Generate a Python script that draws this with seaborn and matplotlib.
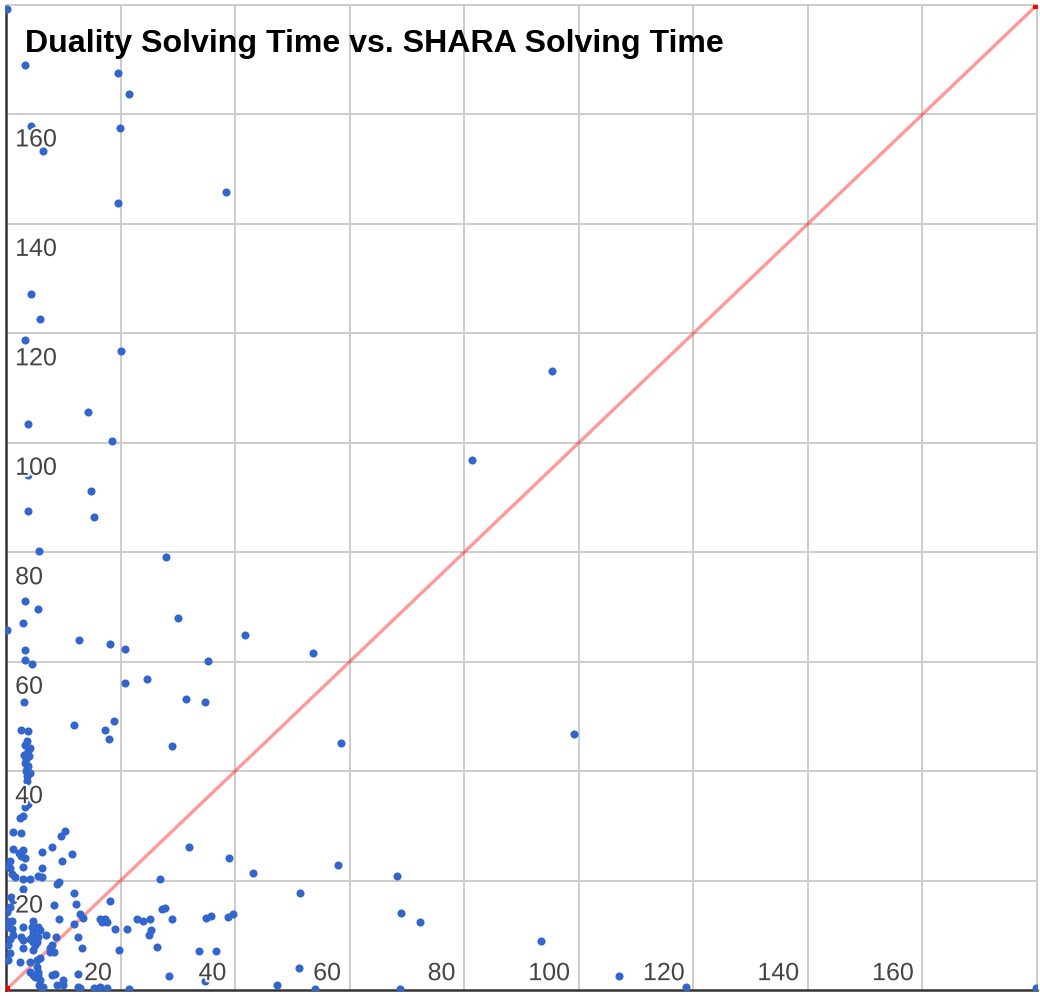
import matplotlib
matplotlib.use("Agg")
import matplotlib.pyplot as plt
import matplotlib.patheffects as pe
import seaborn as sns

# SHARA solving time (x) and Duality solving time (y)
shara = [0.2, 3.3, 19.5, 21.4, 4.3, 19.9, 6.4, 38.4, 19.5, 4.3,
         5.9, 3.3, 20.1, 95.3, 14.3, 3.8, 18.5, 81.3, 3.9, 14.9,
         3.8, 15.4, 5.8, 27.9, 3.4, 5.5, 30.0, 2.9, 0.2, 41.8,
         12.8, 18.2, 20.8, 3.3, 53.6, 3.4, 4.5, 35.3, 20.7, 24.6,
         3.2, 31.5, 34.7, 11.9, 18.9, 17.3, 18.0, 99.2, 58.5, 29.0,
         2.6, 3.8, 3.6, 4.2, 3.1, 4.1, 3.3, 3.9, 3.5, 4.2,
         3.6, 3.6, 3.4, 3.8, 3.5, 3.7, 3.8, 3.3, 3.9, 2.4,
         3.0, 1.3, 2.6, 10.3, 9.6, 8.0, 6.2, 11.5, 1.3, 2.2,
         3.0, 3.3, 2.7, 0.7, 0.1, 9.7, 3.0, 6.2, 0.7, 32.0,
         39.0, 43.2, 57.9, 68.2, 1.0, 1.6, 3.0, 4.2, 5.6, 6.2,
         2.9, 8.9, 9.3, 11.9, 12.2, 8.3, 1.3, 0.7, 0.9, 0.1,
         9.3, 12.9, 13.5, 11.8, 0.1, 0.4, 1.0, 1.0, 1.3, 0.7,
         0.4, 3.0, 4.8, 4.5, 4.8, 5.6, 5.9, 2.7, 3.0, 4.2,
         4.8, 5.4, 5.1, 5.6, 4.6, 4.7, 3.0, 4.8, 7.0, 8.7,
         8.0, 7.7, 7.6, 8.3, 2.4, 0.4, 0.7, 4.2, 5.4, 5.9,
         5.4, 5.6, 5.5, 5.9, 5.8, 6.2, 6.5, 4.2, 4.7, 5.1,
         8.0, 8.6, 8.9, 10.0, 10.0, 12.5, 12.5, 12.9, 15.3, 16.4,
         17.6, 12.5, 13.2, 16.7, 17.3, 17.6, 16.4, 18.1, 19.1, 19.8,
         21.1, 21.5, 22.8, 24.0, 25.2, 25.3, 24.9, 26.4, 26.8, 27.2,
         27.7, 29.0, 28.5, 33.7, 36.7, 34.8, 34.9, 35.8, 38.8, 39.6,
         51.3, 51.1, 47.3, 53.9, 68.9, 72.2, 93.4, 107.1, 118.7, 68.8, 179.8]

duality = [179.2, 169.1, 167.6, 163.8, 157.9, 157.6, 153.3, 145.9, 143.8, 127.1,
           122.7, 118.8, 116.7, 113.2, 105.7, 103.5, 100.4, 96.9, 94.2, 91.1,
           87.5, 86.5, 80.3, 79.1, 71.0, 69.6, 68.0, 67.1, 65.8, 64.8,
           63.9, 63.2, 62.4, 62.2, 61.5, 60.3, 59.5, 60.1, 56.1, 56.9,
           52.6, 53.1, 52.6, 48.4, 49.2, 47.6, 45.9, 46.8, 45.1, 44.5,
           47.6, 47.4, 45.5, 44.2, 43.0, 42.7, 41.5, 40.9, 40.0, 39.7,
           39.1, 38.2, 44.8, 43.6, 42.2, 40.5, 39.5, 33.5, 33.9, 31.4,
           31.8, 28.8, 28.6, 29.1, 28.2, 26.2, 25.3, 24.9, 25.8, 25.1,
           25.5, 24.1, 24.5, 23.6, 22.7, 23.6, 22.5, 22.3, 22.3, 26.2,
           24.1, 21.3, 22.8, 20.9, 21.2, 20.6, 20.3, 20.3, 20.9, 20.6,
           18.5, 19.3, 19.7, 17.7, 15.8, 15.5, 16.4, 15.1, 17.0, 14.2,
           12.9, 13.8, 13.2, 12.0, 12.7, 11.5, 12.7, 11.2, 10.0, 9.4,
           8.2, 11.6, 12.6, 11.5, 10.6, 11.5, 10.9, 9.7, 9.1, 9.4,
           9.1, 8.8, 8.2, 9.7, 9.7, 8.8, 7.6, 7.3, 10.0, 9.7,
           8.2, 7.6, 7.0, 7.0, 5.1, 5.5, 6.7, 5.1, 5.5, 5.8,
           4.2, 3.3, 2.7, 1.8, 0.9, 0.3, 0.6, 3.3, 2.7, 2.3,
           2.7, 3.0, 0.9, 0.9, 1.8, 3.0, 0.6, 0.4, 0.3, 0.6,
           0.3, 9.6, 7.6, 12.4, 13.0, 12.4, 12.9, 16.2, 11.2, 7.3,
           11.2, 0.1, 12.9, 12.7, 12.9, 10.9, 10.0, 7.9, 20.2, 14.8,
           15.0, 12.9, 2.5, 7.2, 7.1, 1.6, 13.2, 13.6, 13.3, 13.9,
           17.8, 4.0, 0.9, 0.1, 14.1, 12.4, 9.0, 2.5, 0.5, 0.1, 0.3]

# y = x reference line
ref_x = [0, 180]
ref_y = [0, 180]

tick_vals = [20, 40, 60, 80, 100, 120, 140, 160]
axis_max = 180
title = "Duality Solving Time vs. SHARA Solving Time"

sns.set_style("white")
plt.rcParams["font.family"] = ["Liberation Sans", "DejaVu Sans"]

fig = plt.figure(figsize=(10.4, 9.96), dpi=100)
ax = fig.add_axes([6 / 1040, 6 / 996, 1031 / 1040, 985 / 996])

ax.set_xlim(0, axis_max)
ax.set_ylim(0, axis_max)
ax.set_xticks(tick_vals)
ax.set_yticks(tick_vals)
ax.set_xticklabels([])
ax.set_yticklabels([])
ax.tick_params(length=0)
ax.grid(True, color="#cccccc", linewidth=1.4)
ax.set_axisbelow(True)

# reference line, semi transparent red, with its two end points
sns.lineplot(x=ref_x, y=ref_y, ax=ax, color="red", alpha=0.4, linewidth=2.4)
sns.scatterplot(x=ref_x, y=ref_y, ax=ax, color="red", marker="s", s=30, linewidth=0, zorder=4)

sns.scatterplot(x=shara, y=duality, ax=ax, color="#3366cc", s=34, linewidth=0, zorder=3)

for side in ["left", "bottom"]:
    ax.spines[side].set_color("#333333")
    ax.spines[side].set_linewidth(1.8)
for side in ["top", "right"]:
    ax.spines[side].set_color("#cccccc")
    ax.spines[side].set_linewidth(1.4)

# axis labels sit inside the plot, like the Google Sheets chart
halo = [pe.withStroke(linewidth=3, foreground="white")]
for v in tick_vals:
    ax.text(1.6, v - 5.85, str(v), ha="left", va="baseline", fontsize=18,
            color="#444444", zorder=5, path_effects=halo)
    ax.text(v - 1.5, 1.8, str(v), ha="right", va="baseline", fontsize=18,
            color="#444444", zorder=5, path_effects=halo)

fig.text(25 / 1040, 1 - 52 / 996, title, ha="left", va="baseline",
         fontsize=23.1, fontweight="bold", color="black")

fig.savefig("out.png", dpi=100)
